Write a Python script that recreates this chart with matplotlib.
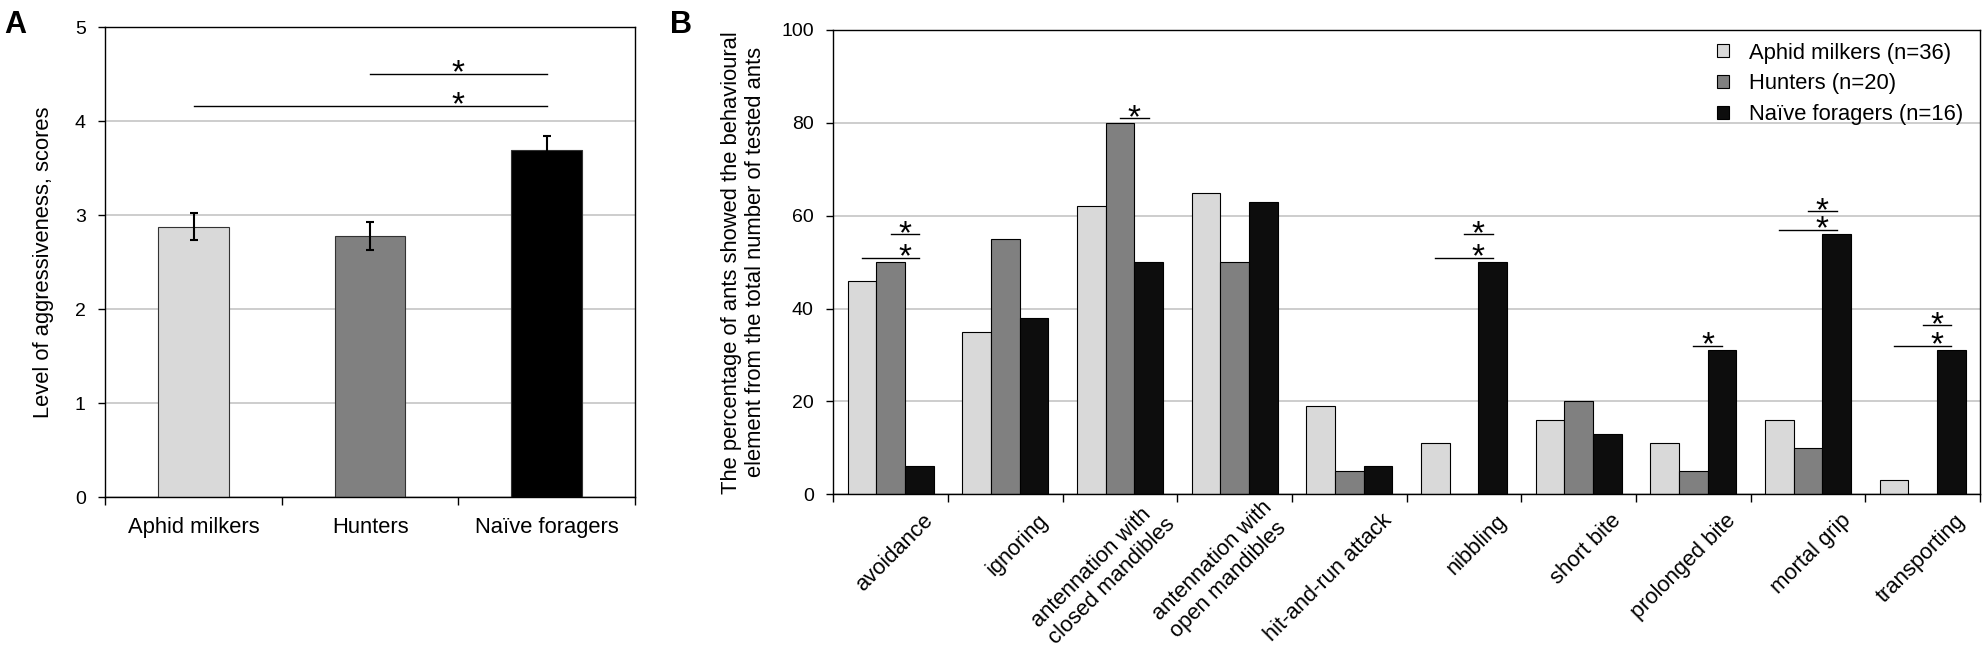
import matplotlib
matplotlib.use("Agg")
import matplotlib.pyplot as plt
import numpy as np
from matplotlib.transforms import ScaledTranslation

plt.rcParams['font.family'] = ['Liberation Sans', 'DejaVu Sans']

# ---------------- data ----------------
groups_A = ["Aphid milkers", "Hunters", "Naïve foragers"]
scores_A = [2.88, 2.78, 3.69]
errors_A = [0.145, 0.145, 0.15]
# (from group, to group, line level)
sig_A = [(0, 2, 4.16), (1, 2, 4.50)]

categories_B = ["avoidance", "ignoring", "antennation with\nclosed mandibles",
                "antennation with\nopen mandibles", "hit-and-run attack", "nibbling",
                "short bite", "prolonged bite", "mortal grip", "transporting"]
series_names = ["Aphid milkers (n=36)", "Hunters (n=20)", "Naïve foragers (n=16)"]
aphid_milkers = [46, 35, 62, 65, 19, 11, 16, 11, 16, 3]
hunters = [50, 55, 80, 50, 5, 0, 20, 5, 10, 0]
naive_foragers = [6, 38, 50, 63, 6, 50, 13, 31, 56, 31]
# (category, from series, to series, line level)
sig_B = [(0, 0, 2, 51), (0, 1, 2, 56), (2, 1, 2, 81), (5, 0, 2, 51), (5, 1, 2, 56),
         (7, 1, 2, 32), (8, 0, 2, 57), (8, 1, 2, 61), (9, 0, 2, 32), (9, 1, 2, 36.5)]

colors_A = ["#d9d9d9", "#808080", "#000000"]
colors_B = ["#d9d9d9", "#808080", "#0d0d0d"]

# ---------------- figure ----------------
DPI = 100
W, H = 1987, 647
fig = plt.figure(figsize=(W / DPI, H / DPI), dpi=DPI)


def rect(l, t, r, b):
    return [l / W, 1 - b / H, (r - l) / W, (b - t) / H]


axA = fig.add_axes(rect(105.3, 27.3, 635, 497.3))
axB = fig.add_axes(rect(833.3, 30, 1980, 494.3))

LAB = 15.8
TICK = 14

for ax in (axA, axB):
    for s in ax.spines.values():
        s.set_color("black")
        s.set_linewidth(1.0)
    ax.set_axisbelow(True)
    ax.yaxis.grid(True, color="#c0c0c0", linewidth=1.1)
    ax.tick_params(axis='y', length=5, width=1, pad=9, labelsize=TICK)
    ax.tick_params(axis='x', which='major', length=6, width=1, direction='out')

# ---------------- panel A ----------------
xA = np.arange(len(groups_A)) + 0.5
axA.bar(xA, scores_A, width=0.4, color=colors_A, edgecolor="#333333", linewidth=0.8, zorder=2)
axA.errorbar(xA, scores_A, yerr=errors_A, fmt='none', ecolor='black', elinewidth=1.5,
             capsize=2.8, capthick=1.5, zorder=3)
axA.set_xlim(0, len(groups_A))
axA.set_ylim(0, 5)
axA.set_yticks(np.arange(0, 6, 1))
axA.set_xticks(np.arange(len(groups_A) + 1))
axA.set_xticklabels([])
axA.set_xticks(xA, groups_A, minor=True)
axA.tick_params(axis='x', which='minor', length=0, pad=14, labelsize=LAB)
axA.set_ylabel("Level of aggressiveness, scores", fontsize=LAB, va='center')
axA.yaxis.set_label_coords(-0.1176, 0.5)

for a, b, y in sig_A:
    axA.plot([xA[a], xA[b]], [y, y], color='black', lw=1.0, zorder=3)
    sx = (xA[b - 1] + xA[b]) / 2
    axA.annotate('*', xy=(sx, y), xytext=(0, -8), textcoords='offset pixels',
                 ha='center', va='baseline', fontsize=24)

# ---------------- panel B ----------------
nB = len(categories_B)
xB = np.arange(nB) + 0.5
bw = 0.25
offs = (np.arange(3) - 1) * bw
for k, vals in enumerate([aphid_milkers, hunters, naive_foragers]):
    axB.bar(xB + offs[k], vals, width=bw, color=colors_B[k], edgecolor='black',
            linewidth=0.8, label=series_names[k], zorder=2)
axB.set_xlim(0, nB)
axB.set_ylim(0, 100)
axB.set_yticks(np.arange(0, 101, 20))
axB.set_xticks(np.arange(nB + 1))
axB.set_xticklabels([])
axB.set_xticks(xB, categories_B, minor=True)
axB.tick_params(axis='x', which='minor', length=0, pad=11.5, labelsize=LAB)
axB.set_ylabel("The percentage of ants showed the behavioural\n"
               "element from the total number of tested ants", fontsize=LAB, va='center')
axB.yaxis.set_label_coords(-0.0783, 0.5)

for lbl, cat in zip(axB.get_xticklabels(minor=True), categories_B):
    lbl.set_rotation(45)
    lbl.set_rotation_mode('anchor')
    lbl.set_ha('right')
    lbl.set_va('top')
    lbl.set_multialignment('left')
    if "\n" in cat:
        dx, dy = 27, 13
    else:
        dx, dy = 32, 0
    lbl.set_transform(lbl.get_transform() +
                      ScaledTranslation(dx / DPI, dy / DPI, fig.dpi_scale_trans))

for c, a, b, y in sig_B:
    axB.plot([xB[c] + offs[a], xB[c] + offs[b]], [y, y], color='black', lw=1.0, zorder=3)
    sx = xB[c] + (offs[b - 1] + offs[b]) / 2
    axB.annotate('*', xy=(sx, y), xytext=(0, -9), textcoords='offset pixels',
                 ha='center', va='baseline', fontsize=24)

axB.legend(loc='upper right', bbox_to_anchor=(0.985, 0.973), frameon=False, fontsize=LAB,
           handlelength=0.55, handleheight=0.55, handletextpad=0.9, labelspacing=0.45,
           borderpad=0, borderaxespad=0)

fig.text(4 / W, 1 - 10 / H, "A", fontsize=22, fontweight='bold', ha='left', va='top')
fig.text(670 / W, 1 - 10 / H, "B", fontsize=22, fontweight='bold', ha='left', va='top')

fig.savefig("out.png", dpi=DPI)
